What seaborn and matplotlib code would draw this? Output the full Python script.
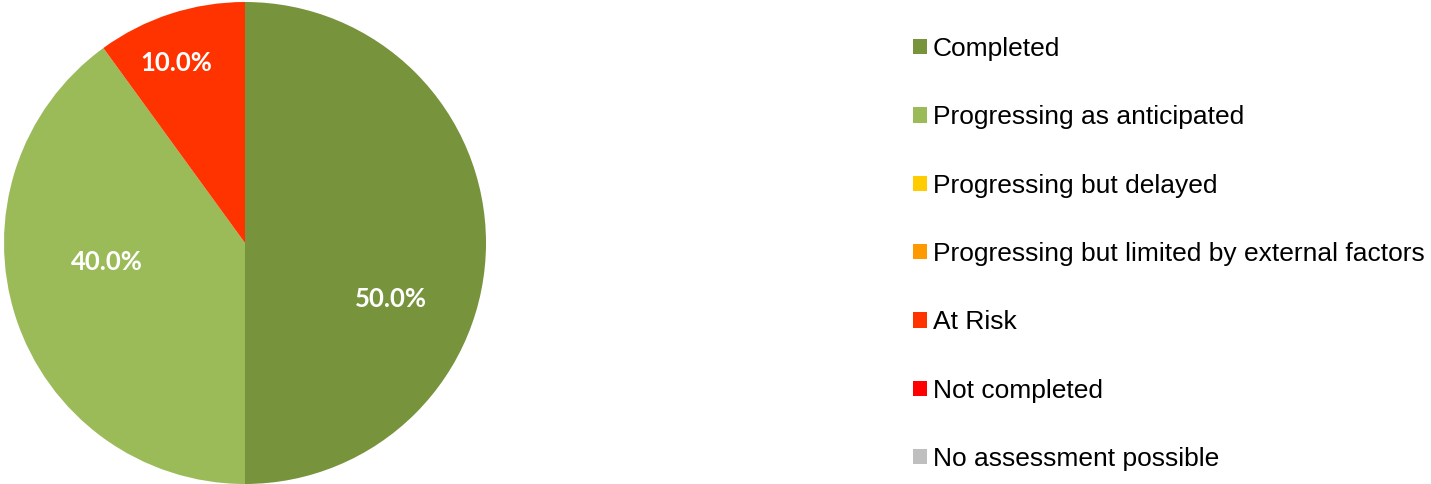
import numpy as np
import matplotlib
matplotlib.use('Agg')
import matplotlib.pyplot as plt
import seaborn as sns

# status categories and share of actions (percent)
categories = ['Completed', 'Progressing as anticipated', 'Progressing but delayed',
              'Progressing but limited by external factors', 'At Risk',
              'Not completed', 'No assessment possible']
shares = [50.0, 40.0, 0.0, 0.0, 10.0, 0.0, 0.0]
colors = ['#77933C', '#9BBB59', '#FFCC00', '#FF9900', '#FF3300', '#FF0000', '#BFBFBF']

# where the percent labels sit (radius, angle in degrees) for the non-zero slices
label_layout = {0: (0.65, -21), 1: (0.58, -172), 4: (0.80, 111)}

sns.set_theme(style='white')
plt.rcParams['font.family'] = ['Liberation Sans', 'DejaVu Sans']

fig = plt.figure(figsize=(14.31, 4.84), dpi=100)
ax = fig.add_axes([4 / 1431, 0, 482 / 1431, 482 / 484])

wedges, texts, autotexts = ax.pie(
    shares, colors=colors, startangle=90, counterclock=False,
    autopct=lambda p: f'{p:.1f}%' if p > 0 else '',
    wedgeprops={'linewidth': 0},
    textprops={'color': 'white', 'fontsize': 18.5, 'fontweight': 'bold', 'family': 'Lato'},
)
for i, t in enumerate(autotexts):
    if i in label_layout:
        r, a = label_layout[i]
        t.set_position((r * np.cos(np.radians(a)), r * np.sin(np.radians(a))))
ax.set_xlim(-1, 1)
ax.set_ylim(-1, 1)
ax.set_aspect('equal')
ax.axis('off')

leg = fig.legend(wedges, categories, loc='upper left', bbox_to_anchor=(913 / 1431, 1 - 37 / 484),
                 frameon=False, fontsize=19, handlelength=0.53, handleheight=0.53,
                 handletextpad=0.22, labelspacing=1.68, borderpad=0, borderaxespad=0)
for t in leg.get_texts():
    t.set_color('black')

fig.savefig('out.png', dpi=100)
